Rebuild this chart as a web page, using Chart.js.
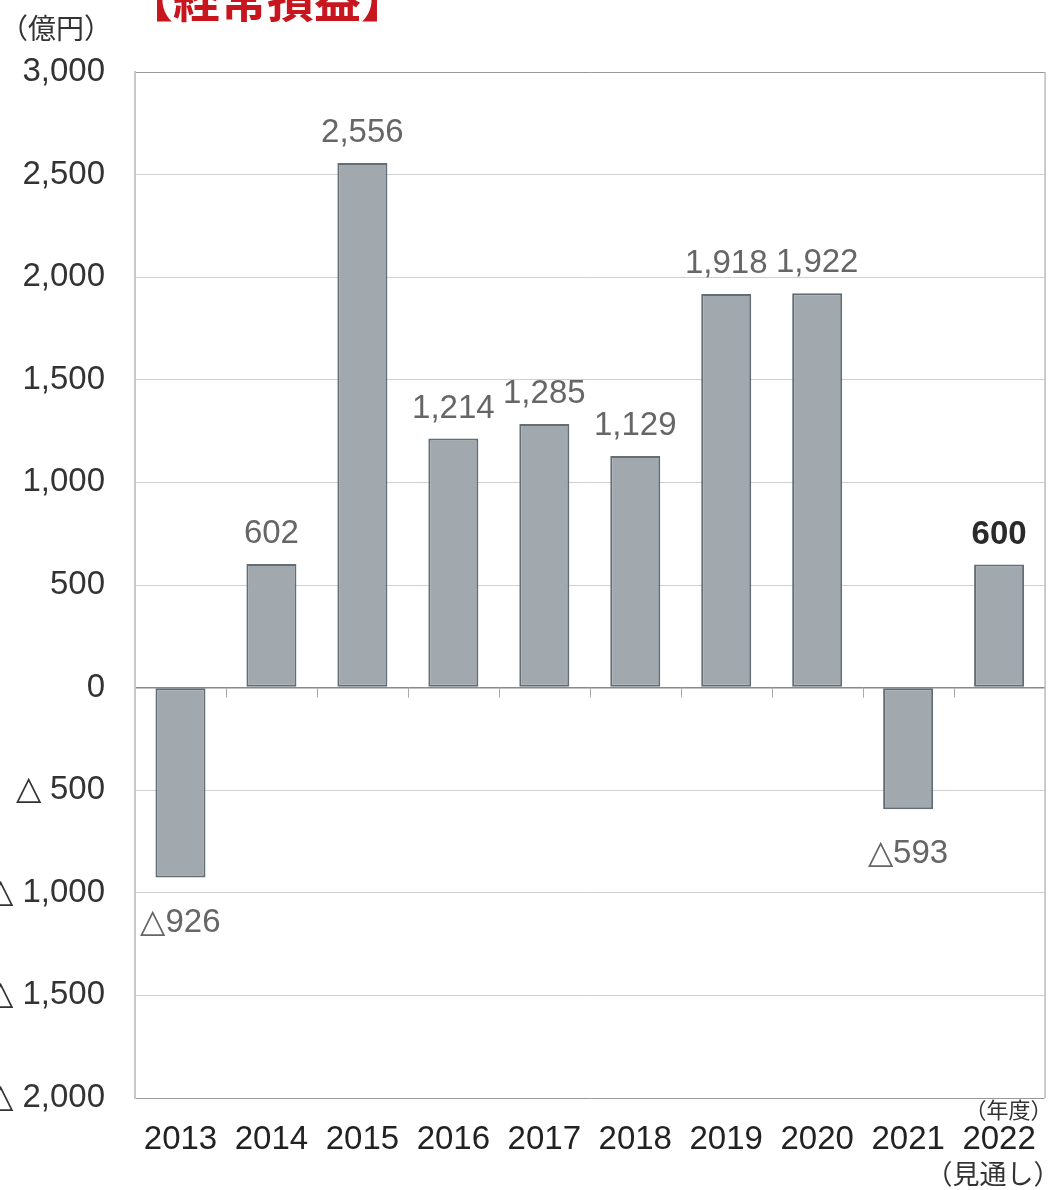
<!DOCTYPE html>
<html>
<head>
<meta charset="utf-8">
<script src="https://cdn.jsdelivr.net/npm/chart.js@4.4.0/dist/chart.umd.min.js"></script>
<style>
    html, body { margin: 0; padding: 0; background: #fff; overflow: hidden; }
    #wrap { position: absolute; left: -40px; top: 0; width: 1098px; height: 1190px; }
</style>
</head>
<body>
<div id="wrap"><canvas id="profitChart"></canvas></div>
<script>
// 経常損益 (億円)
const years = ['2013', '2014', '2015', '2016', '2017', '2018', '2019', '2020', '2021', '2022'];
const ordinaryProfit = [-926, 602, 2556, 1214, 1285, 1129, 1918, 1922, -593, 600];
const yTicks = [3000, 2500, 2000, 1500, 1000, 500, 0, -500, -1000, -1500, -2000];

const jpFont = '"Noto Sans CJK JP", "Noto Sans", sans-serif';
const numFont = '"Liberation Sans", Arial, sans-serif';

function fmt(v) {
    const s = Math.abs(v).toLocaleString('en-US');
    return v < 0 ? '△' + s : s;
}

// title, unit notes, small tick marks and value labels
const decorations = {
    id: 'decorations',
    afterDatasetsDraw(chart) {
        const ctx = chart.ctx;
        const area = chart.chartArea;
        const y = chart.scales.y;
        const zeroY = y.getPixelForValue(0);
        const step = (area.right - area.left) / years.length;

        ctx.save();
        // right border
        ctx.strokeStyle = '#9a9a9a';
        ctx.lineWidth = 1;
        ctx.beginPath();
        ctx.moveTo(area.right + 0.5, area.top);
        ctx.lineTo(area.right + 0.5, area.bottom);
        ctx.stroke();

        // small ticks under the zero line
        ctx.strokeStyle = '#aaaaaa';
        for (let i = 1; i < years.length; i++) {
            const px = Math.round(area.left + i * step) + 0.5;
            ctx.beginPath();
            ctx.moveTo(px, zeroY);
            ctx.lineTo(px, zeroY + 10);
            ctx.stroke();
        }

        // value labels
        const meta = chart.getDatasetMeta(0);
        ctx.textAlign = 'center';
        ctx.textBaseline = 'middle';
        meta.data.forEach((bar, i) => {
            const v = ordinaryProfit[i];
            const last = i === ordinaryProfit.length - 1;
            ctx.font = (last ? 'bold ' : '') + '33px ' + numFont;
            ctx.fillStyle = last ? '#2a2a2a' : '#666666';
            const ty = v >= 0 ? bar.y - 30 : bar.y + 45;
            ctx.fillText(fmt(v), bar.x, ty);
        });

        // title
        ctx.font = 'bold 47px ' + jpFont;
        ctx.fillStyle = '#c8161e';
        ctx.textAlign = 'left';
        ctx.textBaseline = 'middle';
        ctx.fillText('【経常損益】', 166, -1);

        // units
        ctx.font = '28px ' + jpFont;
        ctx.fillStyle = '#333333';
        ctx.fillText('（億円）', 40, 28);
        ctx.font = '22px ' + jpFont;
        ctx.textAlign = 'right';
        ctx.fillText('（年度）', area.right + 8, 1110);
        ctx.font = '27px ' + jpFont;
        ctx.fillText('（見通し）', area.right + 16, 1174);
        ctx.restore();
    }
};

new Chart(document.getElementById('profitChart'), {
    type: 'bar',
    data: {
        labels: years,
        datasets: [{
            data: ordinaryProfit,
            backgroundColor: '#a1a9ae',
            borderColor: '#636d75',
            borderWidth: 2,
            borderSkipped: false,
            categoryPercentage: 1,
            barPercentage: 0.55
        }]
    },
    options: {
        responsive: true,
        maintainAspectRatio: false,
        animation: false,
        layout: { padding: { top: 72, right: 4, left: 0, bottom: 0 } },
        plugins: {
            legend: { display: false },
            tooltip: { enabled: false }
        },
        scales: {
            x: {
                grid: { display: false, drawTicks: false },
                border: { display: false },
                ticks: {
                    color: '#222222',
                    font: { family: numFont, size: 33 },
                    padding: 22,
                    maxRotation: 0
                },
                afterFit(scale) { scale.height = 92; }
            },
            y: {
                min: -2000,
                max: 3000,
                afterBuildTicks(scale) {
                    scale.ticks = yTicks.map(v => ({ value: v }));
                },
                grid: {
                    drawTicks: false,
                    color(c) {
                        const v = c.tick.value;
                        if (v === 0) return '#8a8a8a';
                        if (v === 3000 || v === -2000) return '#9a9a9a';
                        return '#cfcfcf';
                    },
                    lineWidth(c) { return c.tick.value === 0 ? 1.5 : 1; }
                },
                border: { display: true, color: '#c8c8c8', width: 2 },
                ticks: {
                    color: '#333333',
                    font: { family: numFont, size: 33 },
                    padding: 30,
                    callback(v) {
                        if (v < 0) return '△ ' + Math.abs(v).toLocaleString('en-US');
                        return v.toLocaleString('en-US');
                    }
                },
                afterFit(scale) { scale.width = 175; }
            }
        }
    },
    plugins: [decorations]
});
</script>
</body>
</html>
